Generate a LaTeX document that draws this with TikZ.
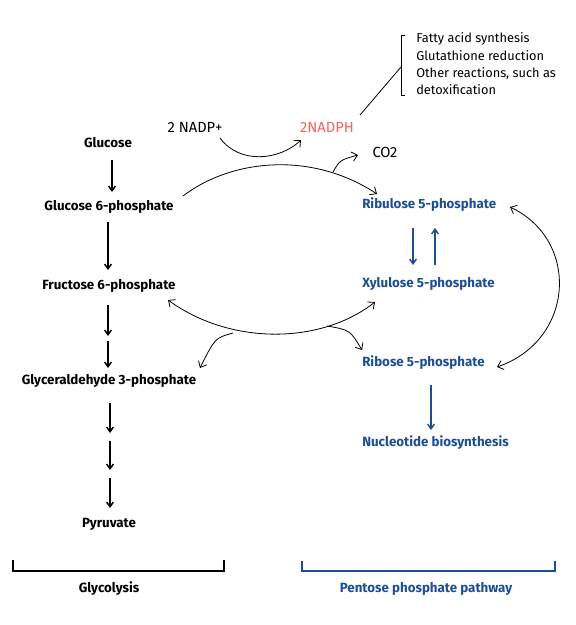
\documentclass[tikz,border=0pt]{standalone}
\usepackage{fontspec}
\setmainfont{Fira Sans}
\usetikzlibrary{arrows.meta,calc}
\definecolor{pblue}{RGB}{28,78,145}
\definecolor{nadph}{RGB}{240,100,96}
\begin{document}
\begin{tikzpicture}[x=0.75pt,y=-0.75pt,
  lbl/.style={font=\fontsize{10}{12}\selectfont\bfseries, inner sep=0pt},
  blbl/.style={lbl, text=pblue},
  small/.style={font=\fontsize{9.6}{13}\selectfont, inner sep=0pt},
  mid/.style={font=\fontsize{11}{13}\selectfont, inner sep=0pt},
  flow/.style={-{Straight Barb[length=3.5pt,width=5pt]}, line width=1.1pt},
  bflow/.style={flow, draw=pblue},
  link/.style={line width=0.6pt},
  tip/.style={-{Straight Barb[length=4pt,width=7pt]}, link},
  tips/.style={{Straight Barb[length=4pt,width=7pt]}-{Straight Barb[length=4pt,width=7pt]}, link},
  brk/.style={line width=1.1pt}]
\useasboundingbox (0,0) rectangle (575,625);
% glycolysis column
\node[lbl] (glc) at (108,143) {Glucose};
\node[lbl] (g6p) at (109,207) {Glucose 6-phosphate};
\node[lbl] (f6p) at (109,286) {Fructose 6-phosphate};
\node[lbl] (gap) at (109,381) {Glyceraldehyde 3-phosphate};
\node[lbl] (pyr) at (109,524) {Pyruvate};
\node[lbl] (glyco) at (109,589) {Glycolysis};
% pentose phosphate column
\node[blbl,anchor=west] (ru5p) at (362,205) {Ribulose 5-phosphate};
\node[blbl,anchor=west] (xu5p) at (362,284) {Xylulose 5-phosphate};
\node[blbl,anchor=west] (r5p) at (362,363) {Ribose 5-phosphate};
\node[blbl,anchor=west] (nuc) at (362,443) {Nucleotide biosynthesis};
\node[blbl] (ppp) at (426,589) {Pentose phosphate pathway};
% cofactors
\node[mid] (nadp) at (195,127) {2 NADP+};
\node[mid,text=nadph] (nadph) at (327,127) {2NADPH};
\node[mid] (co2) at (385,152) {CO2};
\node[small,align=left,anchor=west] (uses) at (416,64) {Fatty acid synthesis\\Glutathione reduction\\Other reactions, such as\\detoxification};
% glycolysis arrows
\coordinate (a1) at (112,160); \coordinate (a2) at (112,192);
\draw[flow] (a1) -- (a2);
\coordinate (b1) at (108,222); \coordinate (b2) at (108,270);
\draw[flow] (b1) -- (b2);
\coordinate (c1) at (108,305); \coordinate (c2) at (108,336);
\coordinate (c3) at (108,341); \coordinate (c4) at (108,368);
\draw[flow] (c1) -- (c2);
\draw[flow] (c3) -- (c4);
\coordinate (d1) at (110,403); \coordinate (d2) at (110,433);
\coordinate (d3) at (110,441); \coordinate (d4) at (110,470);
\coordinate (d5) at (110,478); \coordinate (d6) at (110,508);
\draw[flow] (d1) -- (d2);
\draw[flow] (d3) -- (d4);
\draw[flow] (d5) -- (d6);
% pentose arrows
\coordinate (e1) at (413,228); \coordinate (e2) at (413,265);
\draw[bflow] (e1) -- (e2);
\coordinate (e3) at (435,265); \coordinate (e4) at (435,228);
\draw[bflow] (e3) -- (e4);
\coordinate (f1) at (431,385); \coordinate (f2) at (431,430);
\draw[bflow] (f1) -- (f2);
% brackets
\draw[brk] (13,560) -- (13,571) -- (224,571) -- (224,560);
\draw[brk,pblue] (302,561) -- (302,571) -- (555,571) -- (555,561);
% curved connectors
\coordinate (g6pR) at (183,196);
\coordinate (ru5pL) at (377,194);
\coordinate (co2b) at (333,172);
\coordinate (co2L) at (358,155);
\draw[tip] (g6pR) .. controls (230,160) and (310,150) .. (ru5pL);
\draw[tip] (co2b) .. controls (340,160) .. (co2L);
\coordinate (nadpS) at (220,138);
\coordinate (nadphL) at (301,140);
\draw[tip] (nadpS) .. controls (240,165) and (280,160) .. (nadphL);
\coordinate (f6pR) at (168,300);
\coordinate (xu5pL) at (375,302);
\draw[tips] (f6pR) .. controls (230,345) and (320,345) .. (xu5pL);
\coordinate (gapb) at (233,333);
\coordinate (gapR) at (200,368);
\draw[tip] (gapb) .. controls (215,338) .. (gapR);
\coordinate (r5pb) at (327,326);
\coordinate (r5pL) at (362,350);
\draw[tip] (r5pb) .. controls (350,330) .. (r5pL);
\coordinate (ru5pR) at (510,207);
\coordinate (r5pR) at (497,367);
\draw[tips] (ru5pR) .. controls (580,240) and (575,340) .. (r5pR);
% NADPH uses
\coordinate (nadphE) at (360,115);
\coordinate (brkM) at (401,67);
\draw[link] (nadphE) -- (brkM);
\draw[link] (405,35) -- (401,35) -- (401,95) -- (405,95);
\end{tikzpicture}
\end{document}
